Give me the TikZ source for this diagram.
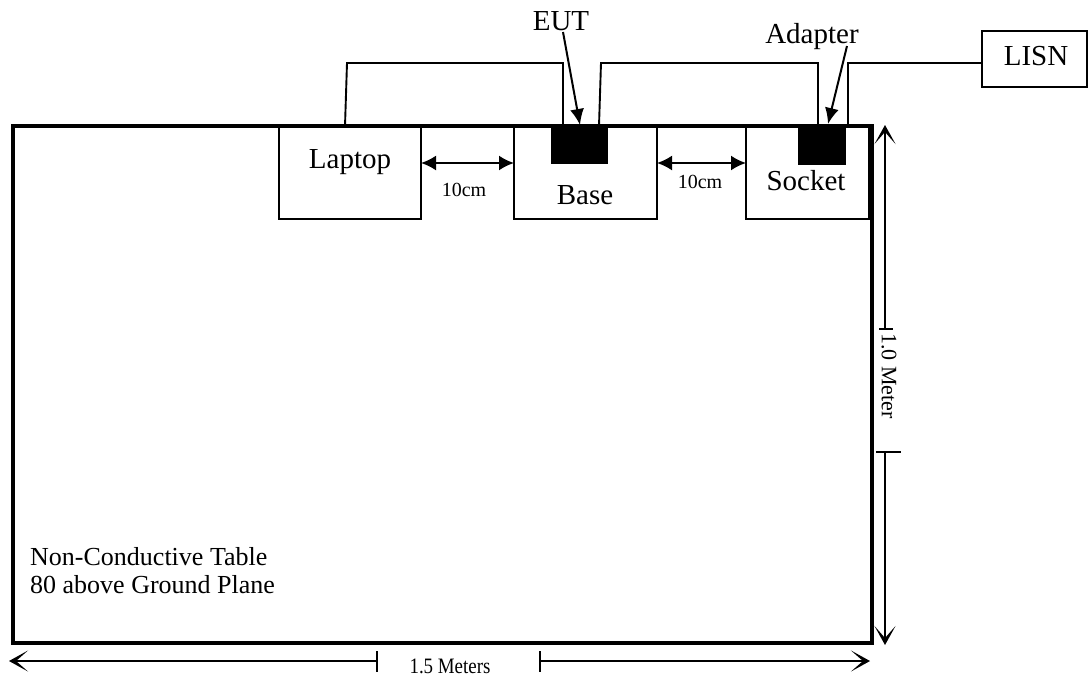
\documentclass[tikz,border=0pt]{standalone}
\usepackage{fontspec}
\setmainfont{Liberation Serif}
\usetikzlibrary{arrows.meta,calc}
\begin{document}
\begin{tikzpicture}[x=1pt,y=-1pt,
  box/.style={draw,line width=2pt,inner sep=0pt,outer sep=0pt,anchor=north west},
  tablebox/.style={draw,line width=3.2pt,inner sep=0pt,outer sep=0pt,anchor=north west},
  plug/.style={fill=black,draw=black,line width=0.5pt,inner sep=0pt,outer sep=0pt,anchor=north west},
  lbl/.style={font=\fontsize{29}{34}\selectfont,inner sep=0pt,anchor=base},
  tbl/.style={font=\fontsize{26}{30}\selectfont,inner sep=0pt,anchor=base west},
  small/.style={font=\fontsize{20}{24}\selectfont,inner sep=0pt,anchor=base},
  dimtxt/.style={font=\fontsize{22}{26}\selectfont,inner sep=0pt},
  cable/.style={line width=1.9pt},
  pointer/.style={line width=2pt,-{Latex[length=16pt,width=14pt]}},
  gap/.style={line width=2pt,{Latex[length=15pt,width=15pt]}-{Latex[length=15pt,width=15pt]}},
  dimline/.style={line width=1.6pt},
  tipend/.style={-{Stealth[length=19pt,width=21pt,inset=12pt]}},
  tipstart/.style={{Stealth[length=19pt,width=21pt,inset=12pt]}-}
]
\useasboundingbox (0,0) rectangle (1088,681);

% table
\node[tablebox,minimum width=859pt,minimum height=517pt] (table) at (13,126) {};
\node[tbl] (t1) at (30,565) {Non-Conductive Table};
\node[tbl] (t2) at (30,593) {80 above Ground Plane};

% boxes
\node[box,minimum width=142pt,minimum height=93pt] (laptop) at (279,126) {};
\node[box,minimum width=143pt,minimum height=93pt] (base) at (514,126) {};
\node[box,minimum width=123pt,minimum height=93pt] (socket) at (746,126) {};
\node[box,minimum width=105pt,minimum height=56pt] (lisn) at (982,31) {};
\node[plug,minimum width=56pt,minimum height=37pt] (eut) at (551,126) {};
\node[plug,minimum width=47pt,minimum height=38pt] (adapter) at (798,126) {};

% labels
\node[lbl] (laptoptxt) at (350,168) {Laptop};
\node[lbl] (basetxt) at (585,204) {Base};
\node[lbl] (sockettxt) at (806,190) {Socket};
\node[lbl] (lisntxt) at (1036,65) {LISN};
\node[lbl] (euttxt) at (561,30) {EUT};
\node[lbl] (adaptertxt) at (812,43) {Adapter};
\node[small] (g1) at (464,196) {10cm};
\node[small] (g2) at (700,188) {10cm};

% cables
\coordinate (c1a) at ($(laptop.north west)+(66,0)$);
\coordinate (c1b) at (347,63);
\coordinate (c1c) at (563,63);
\coordinate (c1d) at (563,126);
\draw[cable] (c1a) -- (c1b) -- (c1c) -- (c1d);
\coordinate (c2a) at (599,126);
\coordinate (c2b) at (601,63);
\coordinate (c2c) at (818,63);
\coordinate (c2d) at (818,126);
\draw[cable] (c2a) -- (c2b) -- (c2c) -- (c2d);
\coordinate (c3a) at (848,126);
\coordinate (c3b) at (848,63);
\draw[cable] (c3a) -- (c3b) -- (c3b -| lisn.west);

% pointers
\coordinate (p1) at (563,32);
\coordinate (p1e) at (580,125);
\draw[pointer] (p1) -- (p1e);
\coordinate (p2) at (847,46);
\coordinate (p2e) at (828,124);
\draw[pointer] (p2) -- (p2e);

% gap arrows
\draw[gap] ($(laptop.north east)+(0,37)$) -- ($(base.north west)+(0,37)$);
\draw[gap] ($(base.north east)+(0,37)$) -- ($(socket.north west)+(0,37)$);

% bottom dimension
\coordinate (bl) at (9,661);
\coordinate (bt1) at (377,661);
\coordinate (bt2) at (540,661);
\coordinate (br) at (870,661);
\draw[dimline,tipstart] (bl) -- (bt1);
\draw[dimline] ($(bt1)+(0,-10)$) -- ($(bt1)+(0,11)$);
\draw[dimline,tipend] (bt2) -- (br);
\draw[dimline] ($(bt2)+(0,-10)$) -- ($(bt2)+(0,11)$);
\node[dimtxt,anchor=base] (w) at (450,673) {\scalebox{0.86}[1]{1.5 Meters}};

% right dimension
\coordinate (vt) at (885,125);
\coordinate (vt1) at (885,329);
\coordinate (vt2) at (885,452);
\coordinate (vb) at (885,645);
\draw[dimline,tipstart] (vt) -- (vt1);
\draw[dimline] ($(vt1)+(-6,0)$) -- ($(vt1)+(8,0)$);
\draw[dimline,tipend] (vt2) -- (vb);
\draw[dimline] ($(vt2)+(-9,0)$) -- ($(vt2)+(16,0)$);
\node[dimtxt,rotate=-90,anchor=center] (h) at (889,376) {1.0 Meter};
\end{tikzpicture}
\end{document}
